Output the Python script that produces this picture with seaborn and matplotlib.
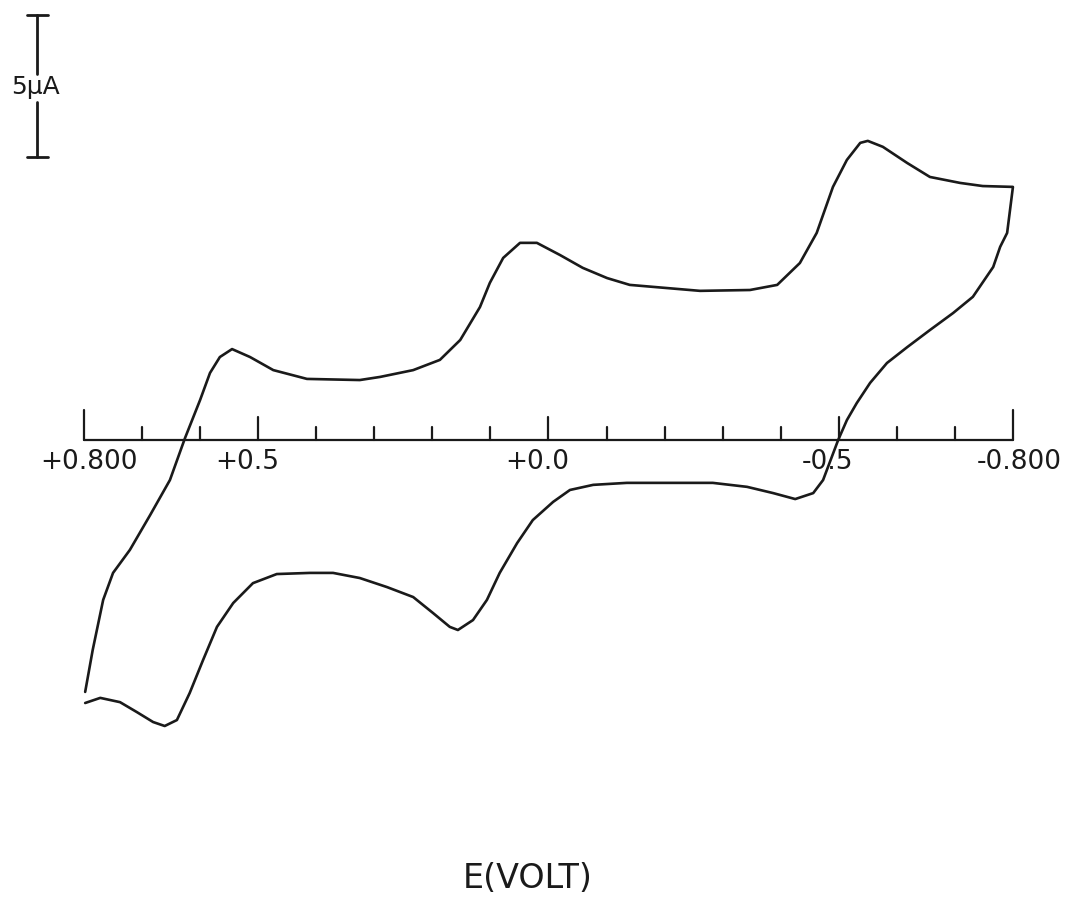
import numpy as np
import pandas as pd
import seaborn as sns
import matplotlib.pyplot as plt

# cyclic voltammogram, potential in V, current in uA
# forward scan +0.8 -> -0.8
e_fwd = [0.798, 0.785, 0.767, 0.750, 0.721, 0.686, 0.652, 0.626, 0.600, 0.583,
         0.566, 0.545, 0.514, 0.474, 0.416, 0.325, 0.290, 0.233, 0.187, 0.152,
         0.118, 0.101, 0.078, 0.049, 0.020, -0.020, -0.059, -0.101, -0.140, -0.261,
         -0.347, -0.394, -0.433, -0.462, -0.490, -0.514, -0.537, -0.550, -0.576, -0.618,
         -0.657, -0.709, -0.748, -0.800]
i_fwd = [-8.87, -7.39, -5.63, -4.68, -3.87, -2.64, -1.41, 0.07, 1.41, 2.36,
         2.92, 3.20, 2.92, 2.46, 2.15, 2.11, 2.22, 2.46, 2.82, 3.52,
         4.68, 5.53, 6.41, 6.94, 6.94, 6.51, 6.06, 5.70, 5.46, 5.25,
         5.28, 5.46, 6.23, 7.29, 8.91, 9.86, 10.46, 10.53, 10.32, 9.75,
         9.26, 9.05, 8.94, 8.91]
# reverse scan -0.8 -> +0.8
e_rev = [-0.795, -0.790, -0.778, -0.766, -0.731, -0.697, -0.657, -0.618, -0.583, -0.554,
         -0.531, -0.514, -0.499, -0.473, -0.456, -0.425, -0.387, -0.342, -0.283, -0.227,
         -0.135, -0.077, -0.037, -0.008, 0.027, 0.054, 0.084, 0.106, 0.130, 0.156,
         0.170, 0.199, 0.233, 0.278, 0.325, 0.371, 0.411, 0.468, 0.509, 0.543,
         0.571, 0.595, 0.618, 0.640, 0.661, 0.681, 0.709, 0.738, 0.772, 0.798]
i_rev = [8.10, 7.29, 6.80, 6.09, 5.04, 4.47, 3.87, 3.27, 2.71, 2.01,
         1.30, 0.70, 0.00, -1.41, -1.87, -2.08, -1.87, -1.65, -1.51, -1.51,
         -1.51, -1.58, -1.76, -2.18, -2.82, -3.63, -4.68, -5.63, -6.34, -6.69,
         -6.58, -6.09, -5.53, -5.18, -4.86, -4.68, -4.68, -4.72, -5.04, -5.74,
         -6.58, -7.75, -8.91, -9.86, -10.07, -9.93, -9.58, -9.23, -9.08, -9.26]

tick_values = [0.8, 0.7, 0.6, 0.5, 0.4, 0.3, 0.2, 0.1, 0.0,
               -0.1, -0.2, -0.3, -0.4, -0.5, -0.6, -0.7, -0.8]
label_values = [0.8, 0.5, 0.0, -0.5, -0.8]
label_texts = ["+0.800", "+0.5", "+0.0", "-0.5", "-0.800"]
scale_ua = 5

df = pd.DataFrame({
    "E": e_fwd + e_rev,
    "I": i_fwd + i_rev,
    "order": np.arange(len(e_fwd) + len(e_rev)),
})

sns.set_style("white")
plt.rcParams["font.family"] = ["DejaVu Sans"]

fig = plt.figure(figsize=(10.75, 8.97), dpi=100)
ax = fig.add_axes([0, 0, 1, 1])
ink = "#1a1a1a"

sns.lineplot(data=df, x="E", y="I", sort=False, estimator=None,
             color=ink, linewidth=1.9, ax=ax)
for ln in ax.get_lines():
    ln.set_solid_joinstyle("round")

# hand-drawn style potential axis at zero current
ax.plot([tick_values[0], tick_values[-1]], [0, 0], color=ink, lw=1.6)
for t in tick_values:
    if t in (0.8, -0.8):
        h = 1.06
    elif t in label_values:
        h = 0.81
    else:
        h = 0.46
    ax.plot([t, t], [0, h], color=ink, lw=1.6)

for v, s in zip(label_values, label_texts):
    dx = -11
    if v == 0.8:
        dx = 5
    if v == -0.8:
        dx = 6
    ax.annotate(s, (v, 0), xytext=(dx, -22), textcoords="offset pixels",
                ha="center", va="center", fontsize=19, color=ink)

# current scale bar
bar_x = 0.881
bar_top = 14.96
bar_bot = bar_top - scale_ua
ax.plot([bar_x, bar_x], [bar_top, 12.9], color=ink, lw=2)
ax.plot([bar_x, bar_x], [11.9, bar_bot], color=ink, lw=2)
for yy in (bar_top, bar_bot):
    ax.plot([0.898, 0.862], [yy, yy], color=ink, lw=2)
ax.text(bar_x + 0.002, 12.41, "5\u00b5A", ha="center",
        va="center", fontsize=18, color=ink)

ax.text(0.035, -15.45, "E(VOLT)", ha="center", va="center", fontsize=24, color=ink)

ax.set_xlim(0.9447, -0.9069)
ax.set_ylim(-16.09, 15.49)
ax.axis("off")
ax.set_xlabel("")
ax.set_ylabel("")
if ax.get_legend():
    ax.get_legend().remove()

fig.savefig("out.png", dpi=100, facecolor="white")
